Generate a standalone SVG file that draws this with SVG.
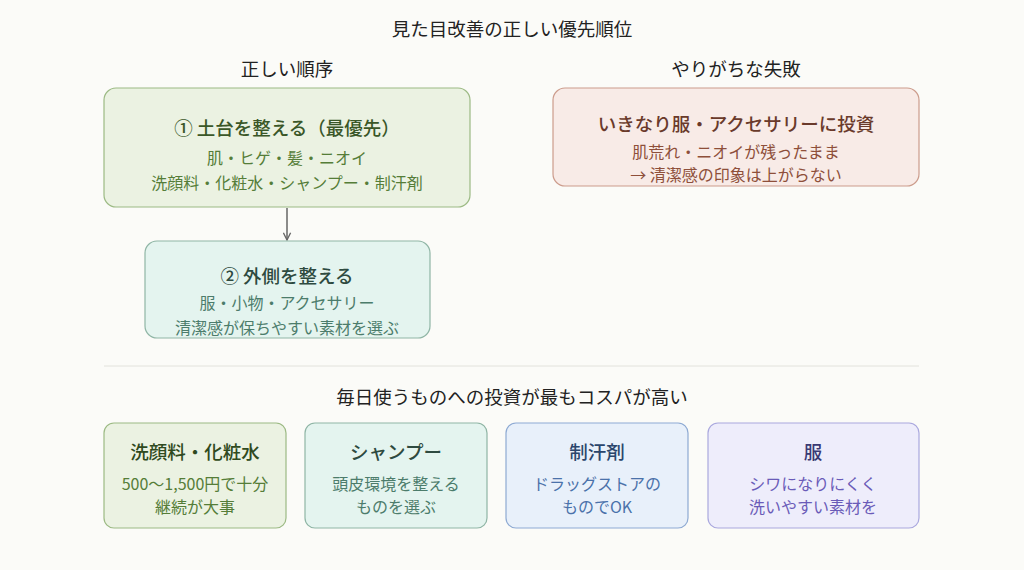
<svg xmlns="http://www.w3.org/2000/svg" width="1024" height="570" viewBox="0 0 1024 570">
<defs>
<style>
text{font-family:"Noto Sans CJK JP","Noto Sans",sans-serif;text-anchor:middle}
.h{font-size:18.5px;fill:#222}
.t{font-size:18.5px;font-weight:500}
.s{font-size:16px}
.g rect{fill:#ebf2e2;stroke:#9cba84}
.g .t{fill:#3a5728}.g .s{fill:#557d38}
.m rect{fill:#e4f4ef;stroke:#8fb5a5}
.m .t{fill:#2e4a40}.m .s{fill:#4c7c6b}
.r rect{fill:#f8ebe7;stroke:#cc9c8c}
.r .t{fill:#6a3a2b}.r .s{fill:#8e4f3a}
.b rect{fill:#e8f0fa;stroke:#8eaad3}
.b .t{fill:#2b466c}.b .s{fill:#4b72aa}
.p rect{fill:#eeedfb;stroke:#aaa8de}
.p .t{fill:#3a3a74}.p .s{fill:#6a5bb8}
rect{stroke-width:1.2}
</style>
<marker id="ah" viewBox="0 0 10 10" refX="9" refY="5" markerWidth="9" markerHeight="9" orient="auto" markerUnits="userSpaceOnUse">
<path d="M1,1 L9,5 L1,9" fill="none" stroke="#666" stroke-width="1.5"/>
</marker>
</defs>
<rect width="1024" height="570" fill="#fbfbf8"/>
<text class="h" x="512" y="36">見た目改善の正しい優先順位</text>
<text class="h" x="287" y="76">正しい順序</text>
<text class="h" x="736" y="76">やりがちな失敗</text>

<g id="connectors">
<line x1="287" y1="208" x2="287" y2="240" stroke="#666" stroke-width="1.5" marker-end="url(#ah)"/>
<line x1="104" y1="366" x2="919" y2="366" stroke="#e2e2dc" stroke-width="1"/>
</g>

<g id="step1" class="g">
<rect x="104" y="88" width="366" height="119" rx="12"/>
<text class="t" x="287" y="135">① 土台を整える（最優先）</text>
<text class="s" x="287" y="164">肌・ヒゲ・髪・ニオイ</text>
<text class="s" x="287" y="189">洗顔料・化粧水・シャンプー・制汗剤</text>
</g>

<g id="step2" class="m">
<rect x="145" y="241" width="285" height="97" rx="12"/>
<text class="t" x="287" y="283">② 外側を整える</text>
<text class="s" x="287" y="309">服・小物・アクセサリー</text>
<text class="s" x="287" y="334">清潔感が保ちやすい素材を選ぶ</text>
</g>

<g id="mistake" class="r">
<rect x="553" y="88" width="366" height="98" rx="12"/>
<text class="t" x="736" y="131">いきなり服・アクセサリーに投資</text>
<text class="s" x="736" y="158">肌荒れ・ニオイが残ったまま</text>
<text class="s" x="736" y="181">→ 清潔感の印象は上がらない</text>
</g>

<text class="h" x="512" y="404">毎日使うものへの投資が最もコスパが高い</text>

<g id="item1" class="g">
<rect x="104" y="423" width="182" height="105" rx="10"/>
<text class="t" x="195" y="459" style="fill:#2f4a20">洗顔料・化粧水</text>
<text class="s" x="195" y="490">500〜1,500円で十分</text>
<text class="s" x="195" y="513">継続が大事</text>
</g>

<g id="item2" class="m">
<rect x="305" y="423" width="182" height="105" rx="10"/>
<text class="t" x="396" y="459">シャンプー</text>
<text class="s" x="396" y="490">頭皮環境を整える</text>
<text class="s" x="396" y="513">ものを選ぶ</text>
</g>

<g id="item3" class="b">
<rect x="506" y="423" width="182" height="105" rx="10"/>
<text class="t" x="597" y="459">制汗剤</text>
<text class="s" x="597" y="490">ドラッグストアの</text>
<text class="s" x="597" y="513">ものでOK</text>
</g>

<g id="item4" class="p">
<rect x="708" y="423" width="211" height="105" rx="10"/>
<text class="t" x="813" y="459">服</text>
<text class="s" x="813" y="490">シワになりにくく</text>
<text class="s" x="813" y="513">洗いやすい素材を</text>
</g>
</svg>
